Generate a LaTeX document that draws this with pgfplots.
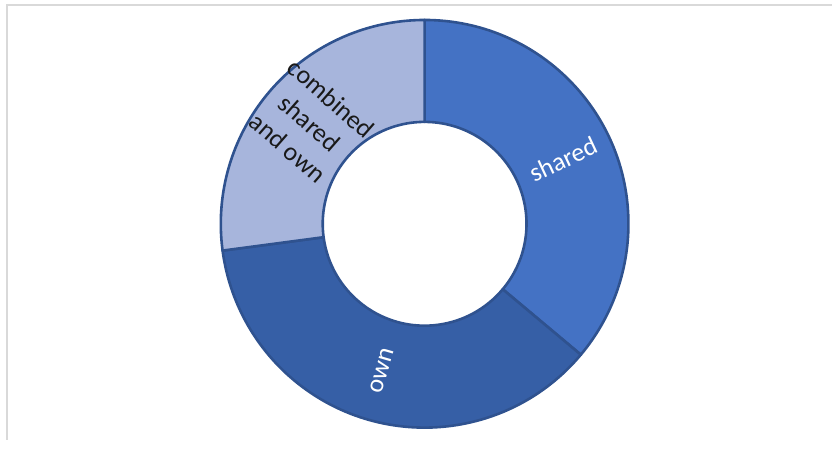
\documentclass[border=0pt]{standalone}
\usepackage{pgfplots}
\pgfplotsset{compat=1.18}
\usepackage{pgfplotstable}
\usepackage{fontspec}
\setmainfont{Carlito}
\definecolor{cShared}{HTML}{4472C4}
\definecolor{cOwn}{HTML}{365FA6}
\definecolor{cComb}{HTML}{A7B5DC}
\definecolor{cEdge}{HTML}{2F528F}
\definecolor{cFrame}{HTML}{D9D9D9}
\pgfplotstableread{
label value
shared 36.1
own 36.8
combined 27.1
}\slices
\begin{document}
\begin{tikzpicture}
\pgfplotstablegetelem{0}{value}\of\slices \let\vA\pgfplotsretval
\pgfplotstablegetelem{1}{value}\of\slices \let\vB\pgfplotsretval
\pgfplotstablegetelem{2}{value}\of\slices \let\vC\pgfplotsretval
\pgfmathsetmacro\total{\vA+\vB+\vC}
\pgfmathsetmacro\aA{90}
\pgfmathsetmacro\aB{90-360*\vA/\total}
\pgfmathsetmacro\aC{\aB-360*\vB/\total}
\pgfmathsetmacro\aD{\aC-360*\vC/\total}
\pgfmathsetmacro\mA{(\aA+\aB)/2}
\pgfmathsetmacro\mB{(\aB+\aC)/2}
\pgfmathsetmacro\mC{(\aC+\aD)/2}
\pgfmathsetmacro\rB{\mB+180}
\pgfmathsetmacro\rC{\mC+180}
\def\R{102pt}
\def\r{51pt}
\def\rm{76.5pt}
\begin{axis}[x=0.5pt,y=0.5pt,xmin=0,xmax=833,ymin=0,ymax=440,
  hide axis,clip=false,scale only axis]
\path (axis cs:0,0) rectangle (axis cs:833,440);
\draw[cFrame,line width=0.75pt] (axis cs:7,0) -- (axis cs:7,435) -- (axis cs:833,435);
\filldraw[fill=cShared,draw=cEdge,line width=1.3pt,line join=round]
  (axis cs:425,216) ++(\aA:\R) arc[start angle=\aA,end angle=\aB,radius=\R]
  -- ++(\aB:-\r) arc[start angle=\aB,end angle=\aA,radius=\r] -- cycle;
\filldraw[fill=cOwn,draw=cEdge,line width=1.3pt,line join=round]
  (axis cs:425,216) ++(\aB:\R) arc[start angle=\aB,end angle=\aC,radius=\R]
  -- ++(\aC:-\r) arc[start angle=\aC,end angle=\aB,radius=\r] -- cycle;
\filldraw[fill=cComb,draw=cEdge,line width=1.3pt,line join=round]
  (axis cs:425,216) ++(\aC:\R) arc[start angle=\aC,end angle=\aD,radius=\R]
  -- ++(\aD:-\r) arc[start angle=\aD,end angle=\aC,radius=\r] -- cycle;
\path (axis cs:425,216) ++(\mA:\rm) node[rotate=\mA,text=white,font=\fontsize{13}{15.5}\selectfont] {shared};
\path (axis cs:425,216) ++(\mB:\rm) node[rotate=\rB,text=white,font=\fontsize{13}{15.5}\selectfont] {own};
\path (axis cs:425,216) ++(\mC:\rm) node[rotate=\rC,text=black!90,align=center,font=\fontsize{13}{16.5}\selectfont] {combined\\shared\\and own};
\end{axis}
\end{tikzpicture}
\end{document}
